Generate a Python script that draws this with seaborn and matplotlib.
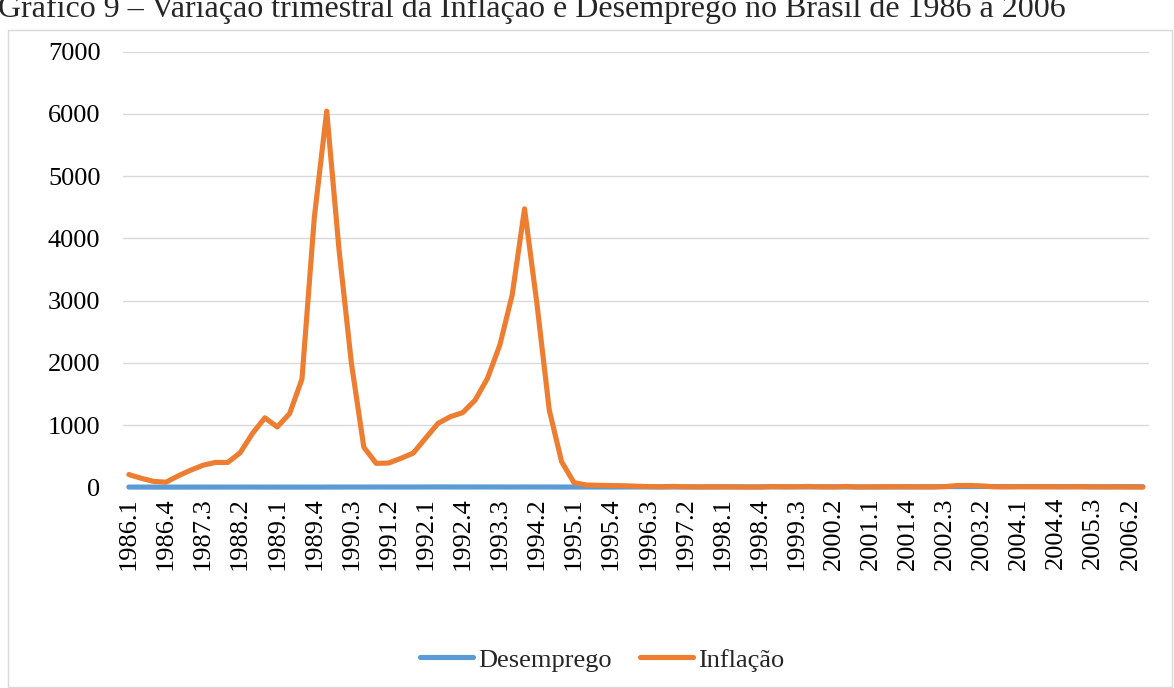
import pandas as pd
import matplotlib
matplotlib.use("Agg")
import matplotlib.pyplot as plt
from matplotlib.patches import Rectangle
import seaborn as sns

sns.set_theme(style="white")
plt.rcParams['font.family'] = ['Liberation Serif', 'DejaVu Serif']

# trimestres 1986.1 .. 2006.3
anos = list(range(1986, 2007))
trimestres = [f"{a}.{q}" for a in anos for q in (1, 2, 3, 4)][:83]

inflacao = [
    205, 145, 95, 82, 185, 275, 355, 400, 400, 555, 866, 1117, 970, 1185, 1740,
    4340, 6045, 3810, 1990, 645, 385, 390, 465, 550, 790,
    1027, 1135, 1200, 1400, 1750, 2285, 3090, 4475, 2950, 1240, 410, 75, 37,
    32, 28,
    25, 18, 12, 10,
    14, 9, 6, 8,
    7, 5, 3, 4,
    12, 8, 10, 14,
    7, 6, 14, 5,
    7, 8, 10, 9,
    8, 7, 12, 28,
    30, 22, 8, 7,
    9, 8, 9, 8,
    8, 9, 6, 5,
    6, 4, 3,
]

desemprego = [
    4.4, 3.9, 3.6, 2.9,
    3.4, 3.6, 3.9, 3.6,
    4.1, 4.0, 3.9, 3.3,
    3.6, 3.3, 3.4, 2.8,
    4.1, 4.3, 4.6, 4.4,
    5.0, 4.7, 4.8, 4.6,
    5.8, 6.0, 5.9, 5.3,
    5.8, 5.6, 5.3, 4.6,
    5.4, 5.3, 5.2, 4.3,
    4.4, 4.6, 4.9, 4.4,
    5.5, 5.8, 5.6, 4.9,
    5.8, 5.9, 5.8, 5.3,
    7.4, 8.0, 7.7, 7.0,
    7.8, 7.8, 7.6, 6.8,
    8.0, 7.5, 7.0, 5.8,
    6.0, 6.7, 6.3, 5.9,
    7.0, 7.5, 11.7, 10.9,
    11.6, 12.8, 13.0, 11.2,
    12.0, 12.3, 11.1, 9.9,
    10.4, 9.9, 9.5, 9.6,
    10.2, 10.5, 10.4,
]

series = ["Desemprego", "Inflação"]
cores = {"Desemprego": "#5B9BD5", "Inflação": "#ED7D31"}
titulo = "Gráfico 9 – Variação trimestral da Inflação e Desemprego no Brasil de 1986 a 2006"

n = len(trimestres)
df = pd.DataFrame({
    "idx": list(range(n)) * 2,
    "valor": desemprego + inflacao,
    "serie": ["Desemprego"] * n + ["Inflação"] * n,
})

LW = 3.7

fig = plt.figure(figsize=(11.74, 6.88), dpi=100)
ax = fig.add_axes([0.1045, 0.2917, 0.8742, 0.6332])

sns.lineplot(data=df, x="idx", y="valor", hue="serie", hue_order=series,
             palette=cores, errorbar=None, ax=ax)
for ln in ax.lines:
    ln.set_linewidth(LW)
    ln.set_solid_capstyle("round")
    ln.set_solid_joinstyle("round")
    ln.set_clip_on(False)

ax.set_xlim(-0.5, n - 0.5)
ax.set_ylim(0, 7000)
ax.set_yticks(range(0, 7001, 1000))
ax.set_xticks(range(0, n, 3))
ax.set_xticklabels(trimestres[::3], rotation=90)
ax.set_xlabel("")
ax.set_ylabel("")
ax.grid(axis="y", color="#D9D9D9", linewidth=1.0)
ax.set_axisbelow(True)
for s in ax.spines.values():
    s.set_visible(False)
ax.tick_params(axis="x", labelsize=19, pad=7, length=0, colors="black")
ax.tick_params(axis="y", labelsize=19, pad=16, length=0, colors="black")

handles, labels = ax.get_legend_handles_labels()
for h in handles:
    h.set_linewidth(LW)
    h.set_solid_capstyle("round")
ax.legend(handles, labels, loc="center", bbox_to_anchor=(0.513, 0.041),
          bbox_transform=fig.transFigure, ncol=2, frameon=False,
          fontsize=19, handlelength=2.0, handletextpad=0.2,
          columnspacing=1.1)

# borda da área do gráfico
fig.patches.append(Rectangle((8 / 1174, 1 / 688), 1164 / 1174, 657 / 688,
                             transform=fig.transFigure, fill=False,
                             edgecolor="#D9D9D9", linewidth=1.0))

fig.text(-0.002, 1 - 17 / 688, titulo, fontsize=23, ha="left", va="baseline")

fig.savefig("out.png", dpi=100)
